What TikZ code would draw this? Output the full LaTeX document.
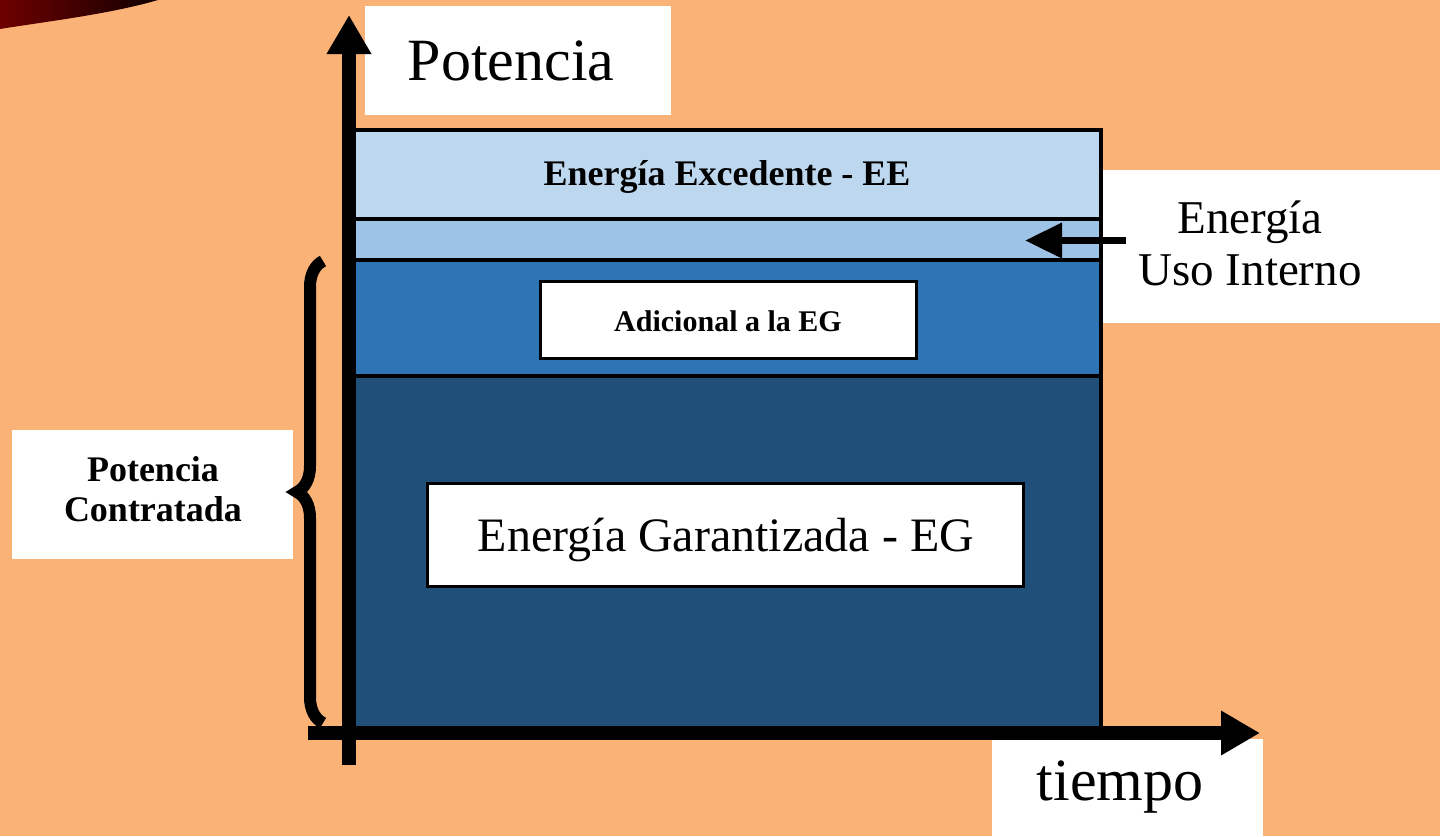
\documentclass[tikz,border=0pt]{standalone}
\usepackage{fontspec}
\setmainfont{Liberation Serif}
\usepackage{tikz}
\usetikzlibrary{arrows.meta, decorations.pathreplacing, positioning}
\definecolor{bgorange}{RGB}{251,178,118}
\definecolor{excedente}{RGB}{189,215,238}
\definecolor{usointerno}{RGB}{157,195,230}
\definecolor{adicional}{RGB}{46,117,182}
\definecolor{garantizada}{RGB}{32,79,121}
\definecolor{darkred}{RGB}{110,0,0}

\begin{document}
\begin{tikzpicture}[x=0.5pt, y=-0.5pt,
    layer/.style={draw=black, line width=2pt},
    axis/.style={line width=7pt, -{Triangle[length=19.5pt, width=21pt]}},
    label/.style={fill=white, draw=black, line width=1.5pt, inner sep=0pt}]
            \fill[bgorange] (0,0) rectangle (1440,836);
            \useasboundingbox (0,0) rectangle (1440,836);
            \shade[left color=darkred, right color=black!85!darkred] (0,0) -- (158,0) .. controls (110,14) and (50,21) .. (0,29) -- cycle;

            \draw[layer, fill=garantizada] (352,376) rectangle (1101,731);
            \draw[layer, fill=adicional] (352,260) rectangle (1101,376);
            \draw[layer, fill=usointerno] (352,219) rectangle (1101,260);
            \draw[layer, fill=excedente] (352,129.5) rectangle (1101,219);

            \fill[white] (365,6) rectangle (671,115);
            \fill[white] (992,739) rectangle (1263,836);
            \fill[white] (1103,170) rectangle (1440,323);
            \fill[white] (12,430) rectangle (293,559);

            \node[font=\bfseries\fontsize{18}{20}\selectfont, anchor=base] (ee) at (727,185) {Energía Excedente - EE};
            \node[label, minimum width=188pt, minimum height=38.5pt] (adbox) at (728,319.5) {};
            \node[font=\bfseries\fontsize{15}{17}\selectfont, anchor=base] (ad) at (728,331) {Adicional a la EG};
            \node[label, minimum width=298pt, minimum height=51.5pt] (egbox) at (725,534.5) {};
            \node[font=\fontsize{24}{28}\selectfont, anchor=base] (eg) at (726,551) {Energía Garantizada - EG};

            \node[font=\fontsize{30}{34}\selectfont, anchor=base] (pot) at (511,80) {Potencia};
            \node[font=\fontsize{30}{34}\selectfont, anchor=base] (tiempo) at (1120,800) {tiempo};
            \node[font=\fontsize{23.5}{26}\selectfont, anchor=base] (eui1) at (1250,233) {Energía};
            \node[font=\fontsize{23.5}{26}\selectfont, anchor=base] (eui2) at (1250,285) {Uso Interno};
            \node[font=\bfseries\fontsize{18}{20}\selectfont, anchor=base] (pc1) at (153,481) {Potencia};
            \node[font=\bfseries\fontsize{18}{20}\selectfont, anchor=base] (pc2) at (153,521) {Contratada};

            \coordinate (euitail) at (1126,240.5);
            \coordinate (euitip) at (1025,240.5);
            \draw[line width=3.5pt, -{Triangle[length=18.5pt, width=17pt]}] (euitail) -- (euitip);

            \coordinate (ybot) at (349,765);
            \coordinate (ytop) at (349,15);
            \coordinate (xleft) at (308,733);
            \coordinate (xright) at (1260,733);
            \draw[axis] (ybot) -- (ytop);
            \draw[axis] (xleft) -- (xright);

            \coordinate (brbot) at (323,723);
            \coordinate (brtop) at (323,261);
            \draw[decorate, decoration={brace, amplitude=13pt}, line width=6pt] (brbot) -- (brtop);
        \end{tikzpicture}
\end{document}
